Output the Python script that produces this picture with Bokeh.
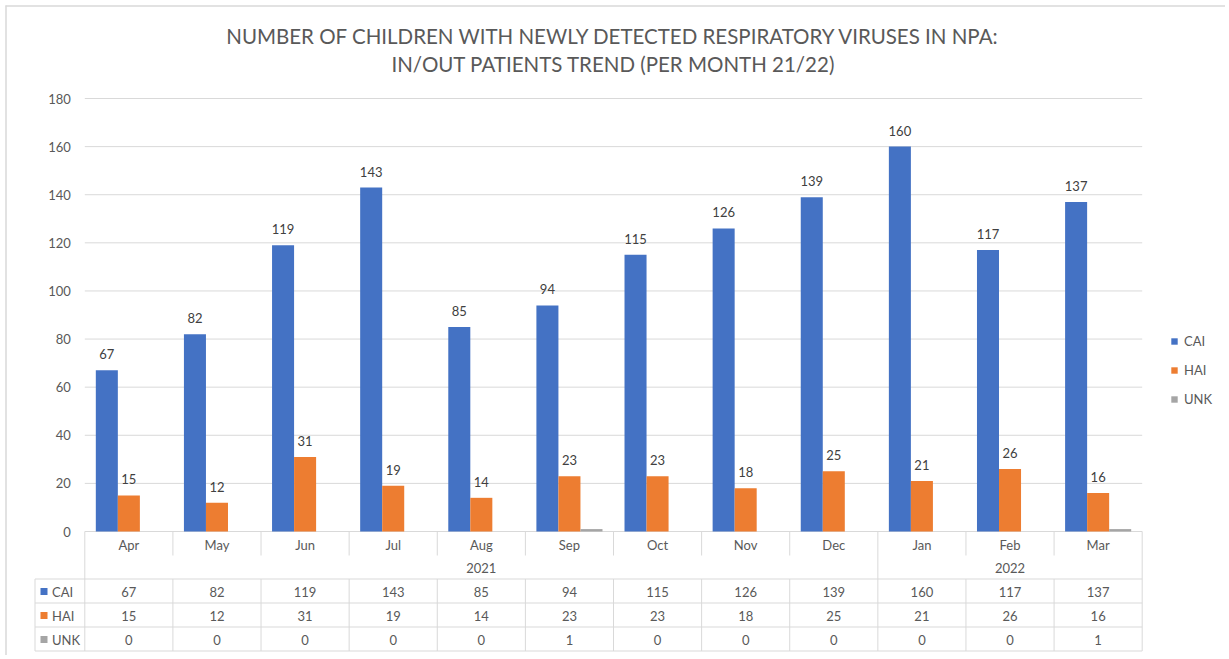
from bokeh.plotting import figure
from bokeh.models import Range1d, Legend, LegendItem, ColumnDataSource
from bokeh.embed import file_html
from bokeh.resources import INLINE
from bokeh.core.properties import value

months = ["Apr", "May", "Jun", "Jul", "Aug", "Sep", "Oct", "Nov", "Dec", "Jan", "Feb", "Mar"]
years = ["2021", "2022"]
year_spans = [(0, 8), (9, 11)]
series = ["CAI", "HAI", "UNK"]
cai = [67, 82, 119, 143, 85, 94, 115, 126, 139, 160, 117, 137]
hai = [15, 12, 31, 19, 14, 23, 23, 18, 25, 21, 26, 16]
unk = [0, 0, 0, 0, 0, 1, 0, 0, 0, 0, 0, 1]
y_ticks = [0, 20, 40, 60, 80, 100, 120, 140, 160, 180]
colors = ["#4472C4", "#ED7D31", "#A5A5A5"]
title1 = "NUMBER OF CHILDREN WITH NEWLY DETECTED RESPIRATORY VIRUSES IN NPA:"
title2 = "IN/OUT PATIENTS TREND (PER MONTH 21/22)"

FONT = "Lato"
TXT = "#595959"
GRID = "#d9d9d9"

# canvas geometry (pixels inside the figure)
CW, CH = 1225, 655
L, R = 84.3, 1141.7          # plot area left / right
Y_TOP, Y_BOT = 98, 531        # pixel rows of 180 and 0
n = len(months)
idx = list(range(n))
scale = (R - L) / n


def xd(px):
    return -0.5 + (px - L) / scale


ys = (Y_BOT - Y_TOP) / y_ticks[-1]
p = figure(width=CW, height=CH, output_backend="svg", toolbar_location=None,
           x_range=Range1d(xd(0), xd(CW)),
           y_range=Range1d(-(CH - Y_BOT) / ys, y_ticks[-1] + Y_TOP / ys),
           x_axis_location=None, y_axis_location=None, min_border=0)
p.extra_y_ranges = {"px": Range1d(CH, 0)}
p.outline_line_color = None
p.grid.grid_line_color = None

# chart border (top / left)
p.segment(x0=[xd(5), xd(5.5)], x1=[xd(CW), xd(5.5)], y0=[5.5, 5], y1=[5.5, CH],
          y_range_name="px", line_color=GRID, line_width=1.5)

# titles
tx = xd((L + R) / 2)
p.text(x=[tx, tx], y=[35, 63], text=[title1, title2], y_range_name="px",
       text_align="center", text_baseline="middle", text_font=value(FONT),
       text_font_size="20.5px", text_color=TXT)

# y grid and tick labels
p.segment(x0=[-0.5] * len(y_ticks), x1=[n - 0.5] * len(y_ticks), y0=y_ticks, y1=y_ticks,
          line_color=GRID, line_width=1)
p.text(x=[-0.5] * len(y_ticks), y=y_ticks, text=[str(v) for v in y_ticks], x_offset=-14,
       text_align="right", text_baseline="middle", text_font=value(FONT),
       text_font_size="13px", text_color=TXT)

# bars
renderers = []
for j, (vals, col) in enumerate(zip([cai, hai, unk], colors)):
    xs = [i + (j - 1) * 0.25 for i in idx]
    src = ColumnDataSource(dict(x=xs, top=vals, lab=[str(v) for v in vals]))
    r = p.vbar(x="x", top="top", width=0.25, source=src, fill_color=col, line_color=None)
    renderers.append(r)
    if j < 2:
        p.text(x="x", y="top", text="lab", source=src, text_align="center",
               text_baseline="bottom", y_offset=-11, text_font=value(FONT),
               text_font_size="13px", text_color="#404040")

legend = Legend(items=[LegendItem(label=s, renderers=[r]) for s, r in zip(series, renderers)],
                location=(1170, CH - 409), orientation="vertical", padding=0, margin=0,
                border_line_color=None, background_fill_alpha=0,
                glyph_width=8, glyph_height=8, label_height=20, spacing=9,
                label_standoff=6, label_text_font=FONT, label_text_font_size="13px",
                label_text_color=TXT)
p.add_layout(legend, "center")

# data table
TL = 34.5                      # table left edge (pixels)
T_TOP = Y_BOT
row_month, row_year = 544, 567
row_vals = [591, 615, 639]
h_y = [578.5, 602.5, 626.5, 650.5]
p.segment(x0=[xd(TL)] * 4, x1=[n - 0.5] * 4, y0=h_y, y1=h_y, y_range_name="px",
          line_color=GRID, line_width=1)
vx, vy0, vy1 = [], [], []
for k in range(n + 1):
    xb = k - 0.5
    if k in (0, n):
        vx.append(xb); vy0.append(T_TOP); vy1.append(h_y[-1])
    else:
        top_end = h_y[0] if k == year_spans[1][0] else 555
        vx += [xb, xb]; vy0 += [T_TOP, h_y[0]]; vy1 += [top_end, h_y[-1]]
vx.append(xd(TL)); vy0.append(h_y[0]); vy1.append(h_y[-1])
p.segment(x0=vx, x1=vx, y0=vy0, y1=vy1, y_range_name="px", line_color=GRID, line_width=1)

tk = dict(text_font=value(FONT), text_font_size="13px", text_color=TXT,
          text_baseline="middle", y_range_name="px")
p.text(x=idx, y=[row_month] * n, text=months, text_align="center", **tk)
p.text(x=[(a + b) / 2 for a, b in year_spans], y=[row_year] * 2, text=years,
       text_align="center", **tk)
for vals, yy in zip([cai, hai, unk], row_vals):
    p.text(x=idx, y=[yy] * n, text=[str(v) for v in vals], text_align="center", **tk)
p.rect(x=[xd(TL + 9)] * 3, y=row_vals, width=7, height=7, width_units="screen",
       height_units="screen", fill_color=colors, line_color=None, y_range_name="px")
p.text(x=[xd(TL + 17)] * 3, y=row_vals, text=series, text_align="left", **tk)

open("out.html", "w").write(file_html(p, INLINE))
